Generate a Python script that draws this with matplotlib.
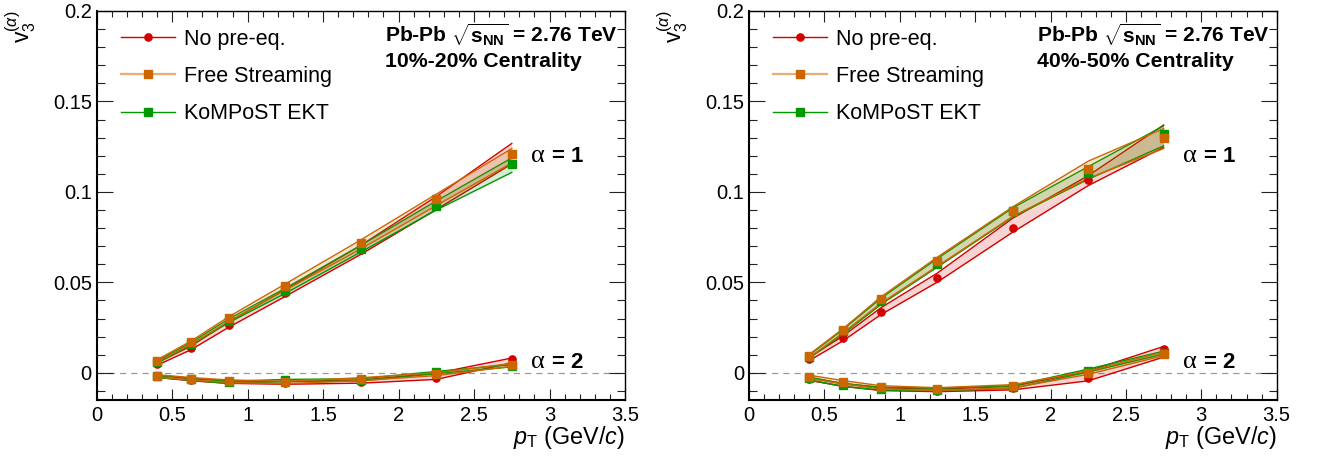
import matplotlib
matplotlib.use("Agg")
import matplotlib.pyplot as plt
from matplotlib.lines import Line2D
from matplotlib import ticker
import numpy as np

plt.rcParams['font.family'] = ['Liberation Sans', 'DejaVu Sans']
plt.rcParams['mathtext.fontset'] = 'custom'
plt.rcParams['mathtext.rm'] = 'Liberation Sans'
plt.rcParams['mathtext.it'] = 'Liberation Sans:italic'
plt.rcParams['mathtext.bf'] = 'Liberation Sans:bold'

# ---------------- data ----------------
pt = [0.4, 0.625, 0.875, 1.25, 1.75, 2.25, 2.75]

series_names = ['No pre-eq.', 'Free Streaming', 'KoMPoST EKT']
centralities = ['10%-20% Centrality', '40%-50% Centrality']
alpha_labels = ['1', '2']

# 10-20 %, alpha = 1
c1020_a1_nopre = [0.0048, 0.0137, 0.0266, 0.0441, 0.0678, 0.0935, 0.1210]
c1020_a1_nopre_lo = [0.0042, 0.0128, 0.0252, 0.0423, 0.0655, 0.0903, 0.1155]
c1020_a1_nopre_hi = [0.0056, 0.0148, 0.0282, 0.0461, 0.0705, 0.0975, 0.1268]
c1020_a1_fs = [0.0068, 0.0170, 0.0303, 0.0482, 0.0716, 0.0962, 0.1211]
c1020_a1_fs_lo = [0.0060, 0.0158, 0.0285, 0.0458, 0.0685, 0.0925, 0.1160]
c1020_a1_fs_hi = [0.0072, 0.0176, 0.0310, 0.0492, 0.0735, 0.0988, 0.1240]
c1020_a1_ekt = [0.0059, 0.0161, 0.0288, 0.0454, 0.0687, 0.0925, 0.1152]
c1020_a1_ekt_lo = [0.0054, 0.0154, 0.0278, 0.0440, 0.0668, 0.0900, 0.1108]
c1020_a1_ekt_hi = [0.0066, 0.0168, 0.0298, 0.0468, 0.0705, 0.0950, 0.1188]

# 10-20 %, alpha = 2
c1020_a2_nopre = [-0.0020, -0.0039, -0.0052, -0.0057, -0.0050, -0.0030, 0.0076]
c1020_a2_nopre_lo = [-0.0025, -0.0044, -0.0058, -0.0063, -0.0057, -0.0036, 0.0055]
c1020_a2_nopre_hi = [-0.0014, -0.0032, -0.0045, -0.0048, -0.0040, -0.0002, 0.0082]
c1020_a2_fs = [-0.0016, -0.0033, -0.0046, -0.0053, -0.0035, -0.0007, 0.0044]
c1020_a2_fs_lo = [-0.0023, -0.0040, -0.0053, -0.0060, -0.0043, -0.0015, 0.0036]
c1020_a2_fs_hi = [-0.0010, -0.0026, -0.0039, -0.0046, -0.0027, 0.0001, 0.0052]
c1020_a2_ekt = [-0.0020, -0.0035, -0.0053, -0.0042, -0.0039, 0.0002, 0.0039]
c1020_a2_ekt_lo = [-0.0026, -0.0041, -0.0059, -0.0048, -0.0045, -0.0004, 0.0033]
c1020_a2_ekt_hi = [-0.0014, -0.0029, -0.0047, -0.0036, -0.0033, 0.0008, 0.0045]

# 40-50 %, alpha = 1
c4050_a1_nopre = [0.0076, 0.0190, 0.0338, 0.0523, 0.0803, 0.1066, 0.1310]
c4050_a1_nopre_lo = [0.0068, 0.0178, 0.0322, 0.0502, 0.0778, 0.1035, 0.1247]
c4050_a1_nopre_hi = [0.0085, 0.0205, 0.0360, 0.0552, 0.0855, 0.1090, 0.1370]
c4050_a1_fs = [0.0094, 0.0238, 0.0410, 0.0620, 0.0896, 0.1128, 0.1296]
c4050_a1_fs_lo = [0.0085, 0.0222, 0.0385, 0.0590, 0.0865, 0.1075, 0.1240]
c4050_a1_fs_hi = [0.0102, 0.0245, 0.0420, 0.0640, 0.0918, 0.1170, 0.1350]
c4050_a1_ekt = [0.0090, 0.0229, 0.0395, 0.0604, 0.0894, 0.1102, 0.1319]
c4050_a1_ekt_lo = [0.0082, 0.0215, 0.0378, 0.0585, 0.0862, 0.1070, 0.1255]
c4050_a1_ekt_hi = [0.0098, 0.0240, 0.0412, 0.0632, 0.0912, 0.1140, 0.1365]

# 40-50 %, alpha = 2
c4050_a2_nopre = [-0.0035, -0.0066, -0.0090, -0.0098, -0.0085, -0.0030, 0.0131]
c4050_a2_nopre_lo = [-0.0042, -0.0074, -0.0098, -0.0104, -0.0094, -0.0044, 0.0087]
c4050_a2_nopre_hi = [-0.0028, -0.0058, -0.0082, -0.0090, -0.0074, 0.0010, 0.0146]
c4050_a2_fs = [-0.0022, -0.0052, -0.0080, -0.0090, -0.0074, 0.0000, 0.0105]
c4050_a2_fs_lo = [-0.0031, -0.0061, -0.0089, -0.0098, -0.0083, -0.0008, 0.0095]
c4050_a2_fs_hi = [-0.0013, -0.0043, -0.0071, -0.0082, -0.0065, 0.0010, 0.0115]
c4050_a2_ekt = [-0.0031, -0.0068, -0.0087, -0.0092, -0.0079, 0.0013, 0.0112]
c4050_a2_ekt_lo = [-0.0039, -0.0076, -0.0095, -0.0099, -0.0086, 0.0005, 0.0104]
c4050_a2_ekt_hi = [-0.0023, -0.0060, -0.0079, -0.0085, -0.0072, 0.0021, 0.0120]

xticks = [0, 0.5, 1, 1.5, 2, 2.5, 3, 3.5]
xtick_labels = ['0', '0.5', '1', '1.5', '2', '2.5', '3', '3.5']
yticks = [0, 0.05, 0.1, 0.15, 0.2]
ytick_labels = ['0', '0.05', '0.1', '0.15', '0.2']

# ---------------- style ----------------
RED = '#d40000'
ORANGE = '#cc6600'
GREEN = '#009a00'
ORANGE_LEG = '#e6ad74'

panels = [
    {
        'cent': centralities[0],
        'a1': [(c1020_a1_nopre, c1020_a1_nopre_lo, c1020_a1_nopre_hi),
               (c1020_a1_fs, c1020_a1_fs_lo, c1020_a1_fs_hi),
               (c1020_a1_ekt, c1020_a1_ekt_lo, c1020_a1_ekt_hi)],
        'a2': [(c1020_a2_nopre, c1020_a2_nopre_lo, c1020_a2_nopre_hi),
               (c1020_a2_fs, c1020_a2_fs_lo, c1020_a2_fs_hi),
               (c1020_a2_ekt, c1020_a2_ekt_lo, c1020_a2_ekt_hi)],
    },
    {
        'cent': centralities[1],
        'a1': [(c4050_a1_nopre, c4050_a1_nopre_lo, c4050_a1_nopre_hi),
               (c4050_a1_fs, c4050_a1_fs_lo, c4050_a1_fs_hi),
               (c4050_a1_ekt, c4050_a1_ekt_lo, c4050_a1_ekt_hi)],
        'a2': [(c4050_a2_nopre, c4050_a2_nopre_lo, c4050_a2_nopre_hi),
               (c4050_a2_fs, c4050_a2_fs_lo, c4050_a2_fs_hi),
               (c4050_a2_ekt, c4050_a2_ekt_lo, c4050_a2_ekt_hi)],
    },
]

styles = [
    dict(color=RED, marker='o', ms=5.2, z=3),
    dict(color=ORANGE, marker='s', ms=5.8, z=5),
    dict(color=GREEN, marker='s', ms=5.2, z=4),
]
draw_order = [0, 2, 1]

W, H = 1320, 462
fig = plt.figure(figsize=(W / 100, H / 100), dpi=100)

ax_rects = [
    [96.7 / W, 62 / H, 528.3 / W, 389 / H],
    [749 / W, 62 / H, 527.7 / W, 389 / H],
]

for p_i, (panel, rect) in enumerate(zip(panels, ax_rects)):
    ax = fig.add_axes(rect)
    ax.set_xlim(0, 3.5)
    ax.set_ylim(-0.015, 0.2)

    ax.axhline(0, color='#999999', lw=0.9, ls=(0, (5, 4)), zorder=1)

    for key in ['a1', 'a2']:
        for s_i in draw_order:
            c, lo, hi = panel[key][s_i]
            st = styles[s_i]
            ax.fill_between(pt, lo, hi, color=st['color'], alpha=0.17,
                            lw=0, zorder=st['z'])
            ax.plot(pt, lo, color=st['color'], lw=1.0, zorder=st['z'])
            ax.plot(pt, hi, color=st['color'], lw=1.0, zorder=st['z'])
            ax.plot(pt, c, ls='none', marker=st['marker'], ms=st['ms'],
                    color=st['color'], mec=st['color'], zorder=st['z'] + 3)

    # alpha labels
    for y_val, lab in [(0.1163, alpha_labels[0], ), (0.0028, alpha_labels[1])]:
        ax.text(2.88, y_val, '\u03b1', family='Liberation Serif',
                fontsize=19, va='baseline', ha='left', zorder=10)
        ax.annotate('= ' + lab, xy=(2.88, y_val), xytext=(15, 0),
                    textcoords='offset points', fontsize=16,
                    fontweight='bold', va='baseline', ha='left', zorder=10)

    # header text
    ax.text(0.545, 0.919, r'Pb-Pb $\sqrt{\mathbf{s}_{\mathbf{NN}}}$ = 2.76 TeV',
            transform=ax.transAxes, fontsize=15.1, fontweight='bold',
            ha='left', va='baseline')
    ax.text(0.545, 0.857, panel['cent'], transform=ax.transAxes,
            fontsize=15.3, fontweight='bold', ha='left', va='baseline')

    # legend
    handles = [
        Line2D([], [], color=RED, lw=1.0, marker='o', ms=5.2),
        Line2D([], [], color=ORANGE_LEG, lw=1.6, marker='s', ms=5.8,
               mfc=ORANGE, mec=ORANGE),
        Line2D([], [], color=GREEN, lw=1.0, marker='s', ms=5.2),
    ]
    ax.legend(handles, series_names, loc='upper left',
              bbox_to_anchor=(0.046, 0.955), frameon=False, fontsize=15.5,
              handlelength=2.5, handletextpad=0.42, labelspacing=0.76,
              borderpad=0, borderaxespad=0)

    # ticks
    ax.xaxis.set_major_locator(ticker.FixedLocator(xticks))
    ax.xaxis.set_major_formatter(ticker.FixedFormatter(xtick_labels))
    ax.xaxis.set_minor_locator(ticker.MultipleLocator(0.1))
    ax.yaxis.set_major_locator(ticker.FixedLocator(yticks))
    ax.yaxis.set_major_formatter(ticker.FixedFormatter(ytick_labels))
    ax.yaxis.set_minor_locator(ticker.MultipleLocator(0.01))
    ax.tick_params(axis='both', which='both', direction='in', top=True,
                   right=True, color='#222222', width=0.8)
    ax.tick_params(axis='x', which='major', length=8, pad=4, labelsize=14.5)
    ax.tick_params(axis='x', which='minor', length=4)
    ax.tick_params(axis='y', which='major', length=11.5, pad=3.5, labelsize=14.5)
    ax.tick_params(axis='y', which='minor', length=5.8)
    for sp in ax.spines.values():
        sp.set_linewidth(1.0)
        sp.set_color('black')
    ax.spines['left'].set_linewidth(1.5)
    ax.spines['bottom'].set_linewidth(1.5)

    ax.text(1.0, -0.114, r'$p_{\mathrm{T}}$ (GeV/$c$)', transform=ax.transAxes,
            fontsize=16.8, ha='right', va='baseline')

    # y label
    x_lab = (21 if p_i == 0 else 673) / W
    fig.text(x_lab, 1 - 11 / H, r'$\mathrm{v}_{3}^{(\alpha)}$', rotation=90,
             fontsize=16.5, ha='center', va='top')

fig.savefig('out.png', dpi=100)
